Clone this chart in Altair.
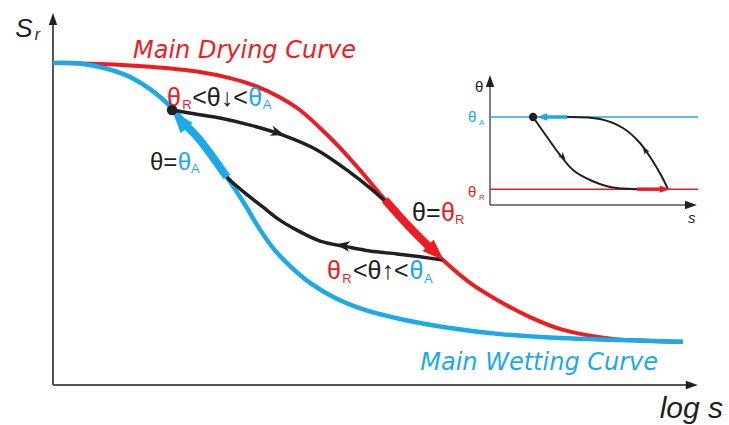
import altair as alt
import pandas as pd

RED = "#ED1C24"
BLUE = "#1BA9E9"
INK = "#231F20"
AXIS = "#555555"

# ---- main panel: degree of saturation Sr (%) against log suction (0-100 units)
drying_logs = [0, 7.5, 15.4, 23.3, 28.1, 32.1, 36.0, 39.2, 42.4, 45.6, 48.7,
               52.7, 56.7, 61.9, 66.2, 70.5, 75.7, 81.0, 88.9, 94.8, 100]
drying_sr = [100, 99.7, 98.8, 97.2, 95.3, 92.9, 89.4, 85.4, 79.8, 73.6, 66.8,
             57.5, 48.8, 38.8, 31.7, 26.4, 21.1, 17.1, 14.3, 13.7, 13.4]

wetting_logs = [0, 4.8, 11.1, 15.4, 18.9, 23.3, 27.6, 30.5, 32.9, 35.2, 37.6,
                40.8, 44.8, 49.5, 55.1, 63.0, 71.0, 80.5, 90.0, 100]
wetting_sr = [100, 99.7, 96.6, 91.9, 86.0, 76.1, 64.6, 55.9, 48.1, 41.9, 37.0,
              31.7, 27.0, 23.3, 20.5, 17.7, 15.8, 14.6, 14.0, 13.4]

# scanning paths between the main curves
scan_dry_logs = [18.9, 23.3, 26.5, 31.3, 36.5, 41.9, 47.1, 50.3, 52.7]
scan_dry_sr = [85.4, 83.9, 82.9, 80.7, 77.6, 73.0, 66.1, 61.2, 57.1]
scan_wet_logs = [61.9, 58.3, 54.6, 50.3, 46.7, 42.4, 38.7, 36.0, 33.3, 30.5, 28.1, 27.6]
scan_wet_sr = [38.8, 39.8, 40.7, 41.6, 42.9, 44.7, 48.1, 51.2, 55.3, 59.6, 63.6, 64.6]

# stretches where the contact angle sits at θR (drying) or θA (wetting)
recede_logs = [52.7, 56.7, 59.6]
recede_sr = [57.5, 48.8, 43.1]
advance_logs = [27.6, 23.3, 21.1]
advance_sr = [64.6, 76.1, 80.6]

# arrowheads: position, heading (deg, clockwise from up)
head_logs = [60.8, 20.1]
head_sr = [41.0, 82.4]
head_angle = [134, 320]
head_color = [RED, BLUE]

flow_logs = [35.7, 46.0]
flow_sr = [78.3, 43.3]
flow_angle = [107, 278]

turn_logs = [18.9]
turn_sr = [85.4]

# ---- inset: contact angle θ against suction s
theta_A = 1.0
theta_R = 0.18
inset_up_s = [0.370, 0.529, 0.639, 0.721, 0.779, 0.822, 0.856]
inset_up_t = [1.0, 0.977, 0.875, 0.705, 0.511, 0.341, 0.18]
inset_low_s = [0.207, 0.274, 0.337, 0.399, 0.481, 0.577, 0.707]
inset_low_t = [1.0, 0.773, 0.568, 0.398, 0.284, 0.205, 0.18]
inset_adv_s = [0.37, 0.27]
inset_rec_s = [0.707, 0.817]
inset_head_s = [0.25, 0.841]
inset_head_t = [theta_A, theta_R]
inset_head_angle = [270, 90]
inset_flow_s = [0.745, 0.351]
inset_flow_t = [0.625, 0.545]
inset_flow_angle = [325, 139]

MX = alt.Scale(domain=[0, 100], range=[53, 683], nice=False, zero=False)
MY = alt.Scale(domain=[0, 100], range=[385, 63], nice=False, zero=False)
IX = alt.Scale(domain=[0, 1], range=[490, 698], nice=False, zero=False)
IY = alt.Scale(domain=[0, 1], range=[205, 117], nice=False, zero=False)

TRI = "M0,-1L0.7,1L-0.7,1Z"
WIDE = "M0,-1L0.72,1L-0.72,1Z"
NOTCH = "M0,-1L0.75,1L0,0.45L-0.75,1Z"


def xy(inset=False):
    sx, sy = (IX, IY) if inset else (MX, MY)
    return dict(x=alt.X("x:Q", scale=sx, axis=None),
                y=alt.Y("y:Q", scale=sy, axis=None))


def curve(xs, ys, color, width, name="c"):
    return pd.DataFrame({"id": name, "i": list(range(len(xs))), "x": xs, "y": ys,
                         "c": color, "w": width})


def path(df, inset=False, interp="catmull-rom"):
    return alt.Chart(df).mark_line(interpolate=interp, strokeCap="butt",
                                   strokeJoin="round").encode(
        **xy(inset), detail="id:N", order="i:Q",
        color=alt.Color("c:N", scale=None),
        strokeWidth=alt.StrokeWidth("w:Q", scale=None))


def heads(xs, ys, angles, colors, sizes, shape, inset=False):
    df = pd.DataFrame({"x": xs, "y": ys, "a": angles, "c": colors, "sz": sizes})
    return alt.Chart(df).mark_point(shape=shape, filled=True, opacity=1,
                                    strokeWidth=0).encode(
        **xy(inset), angle=alt.Angle("a:Q", scale=None),
        color=alt.Color("c:N", scale=None), size=alt.Size("sz:Q", scale=None))


def rules(x1, y1, x2, y2, colors, widths, inset=False):
    df = pd.DataFrame({"x": x1, "y": y1, "x2": x2, "y2": y2, "c": colors, "w": widths})
    return alt.Chart(df).mark_rule().encode(
        **xy(inset), x2="x2:Q", y2="y2:Q",
        color=alt.Color("c:N", scale=None),
        strokeWidth=alt.StrokeWidth("w:Q", scale=None))


def texts(rows, font, style="normal", inset=False):
    df = pd.DataFrame(rows, columns=["x", "y", "t", "c", "fs"])
    return alt.Chart(df).mark_text(font=font, fontStyle=style, align="left",
                                   baseline="alphabetic").encode(
        **xy(inset), text="t:N", color=alt.Color("c:N", scale=None),
        size=alt.Size("fs:Q", scale=None))


layers = [
    # main axes
    rules([0, 0], [0, 0], [0, 100.8], [112, 0], [AXIS, AXIS], [2, 2]),
    heads([0, 101.4], [113.7, 0], [0, 90], [INK, INK], [144, 144], TRI),
    # main curves
    path(curve(drying_logs, drying_sr, RED, 4)),
    path(curve(wetting_logs, wetting_sr, BLUE, 4.5)),
    # scanning paths
    path(pd.concat([curve(scan_dry_logs, scan_dry_sr, INK, 3.5, "dry"),
                    curve(scan_wet_logs, scan_wet_sr, INK, 3.5, "wet")])),
    path(pd.concat([curve(recede_logs, recede_sr, RED, 8, "rec"),
                    curve(advance_logs, advance_sr, BLUE, 8, "adv")])),
    heads(head_logs, head_sr, head_angle, head_color, [484, 484], WIDE),
    heads(flow_logs, flow_sr, flow_angle, [INK, INK], [196, 196], NOTCH),
    alt.Chart(pd.DataFrame({"x": turn_logs, "y": turn_sr})).mark_circle(
        color=INK, opacity=1, size=110).encode(**xy()),
    # curve names
    texts([(12.7, 101.6, "Main Drying Curve", RED, 24),
           (58.3, 4.7, "Main Wetting Curve", BLUE, 24)], "DejaVu Sans", "italic"),
    # axis titles
    texts([(-6.0, 108.1, "S", INK, 26), (-2.9, 107.1, "r", INK, 16),
           (96.3, -10.2, "log s", INK, 30)], "Liberation Sans", "italic"),
    # contact-angle annotations
    texts([(18.1, 86.6, "θ", RED, 25), (20.5, 85.7, "R", RED, 13),
           (22.1, 86.6, "<θ↓<", INK, 25), (31.0, 86.6, "θ", BLUE, 25),
           (33.3, 85.7, "A", BLUE, 13),
           (15.4, 66.8, "θ=", INK, 24), (19.8, 66.8, "θ", BLUE, 24),
           (21.9, 65.8, "A", BLUE, 13),
           (57.0, 50.9, "θ=", INK, 25), (61.6, 50.9, "θ", RED, 25),
           (63.8, 50.0, "R", RED, 13),
           (43.5, 32.9, "θ", RED, 25), (45.9, 31.7, "R", RED, 13),
           (47.6, 32.9, "<θ↑<", INK, 25), (56.6, 32.9, "θ", BLUE, 25),
           (58.9, 31.7, "A", BLUE, 13)], "Liberation Sans"),
    # ---- inset
    rules([0, 0, 0, 0], [0, 0, theta_A, theta_R], [0, 0.94, 1, 1],
          [1.34, 0, theta_A, theta_R], [AXIS, AXIS, BLUE, RED], [1.5, 1.5, 1.5, 1.5],
          inset=True),
    heads([0, 0.966], [1.41, 0], [0, 90], [INK, INK], [144, 144], TRI, inset=True),
    path(pd.concat([curve(inset_up_s, inset_up_t, INK, 2, "up"),
                    curve(inset_low_s, inset_low_t, INK, 2, "low")]), inset=True),
    path(pd.concat([curve(inset_adv_s, [theta_A, theta_A], BLUE, 3.5, "adv"),
                    curve(inset_rec_s, [theta_R, theta_R], RED, 3.5, "rec")]),
         inset=True, interp="linear"),
    heads(inset_head_s, inset_head_t, inset_head_angle, [BLUE, RED], [110, 110], TRI,
          inset=True),
    heads(inset_flow_s, inset_flow_t, inset_flow_angle, [INK, INK], [64, 64], NOTCH,
          inset=True),
    alt.Chart(pd.DataFrame({"x": [0.207], "y": [theta_A]})).mark_circle(
        color=INK, opacity=1, size=70).encode(**xy(True)),
    texts([(-0.072, 1.284, "θ", INK, 15),
           (-0.106, 0.943, "θ", BLUE, 15), (-0.053, 0.909, "A", BLUE, 8),
           (-0.106, 0.091, "θ", RED, 15), (-0.053, 0.057, "R", RED, 8)],
          "Liberation Sans", inset=True),
    texts([(0.952, -0.205, "s", INK, 15)], "Liberation Sans", "italic", inset=True),
]

chart = alt.layer(*layers).resolve_scale(x="independent", y="independent").properties(
    width=729, height=425, padding=0, autosize=alt.AutoSizeParams(type="none"),
    background="white",
).configure_view(stroke=None)

chart.save("out.html", embed_options={"renderer": "svg", "actions": False})
